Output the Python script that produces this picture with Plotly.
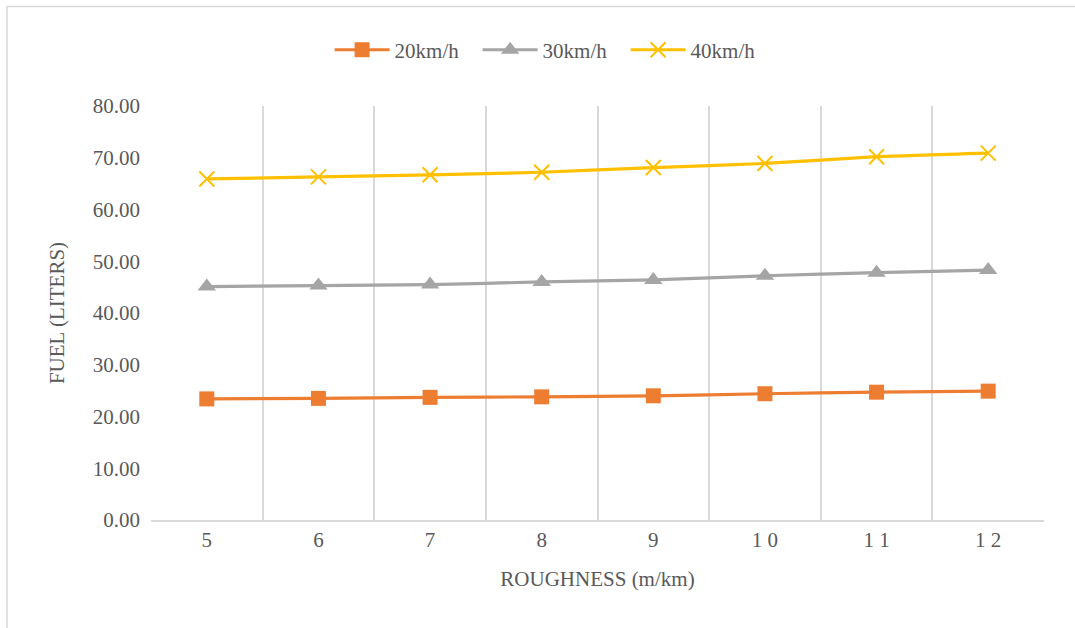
import plotly.graph_objects as go

roughness = ["5", "6", "7", "8", "9", "1 0", "1 1", "1 2"]
fuel_20 = [23.4, 23.5, 23.7, 23.8, 24.0, 24.4, 24.7, 24.9]
fuel_30 = [45.1, 45.3, 45.5, 46.0, 46.4, 47.2, 47.8, 48.3]
fuel_40 = [65.9, 66.3, 66.7, 67.2, 68.1, 68.9, 70.2, 70.9]
y_ticks = [0, 10, 20, 30, 40, 50, 60, 70, 80]

FONT = "Times New Roman, Tinos, Liberation Serif, DejaVu Serif, serif"
TEXT = "#595959"
GRID = "#D9D9D9"
FS = 21

series = [
    ("20km/h", fuel_20, "#ED7D31", "square", 15, None),
    ("30km/h", fuel_30, "#A5A5A5", "triangle-up", 16, None),
    ("40km/h", fuel_40, "#FFC000", "x-thin", 15, 2),
]

fig = go.Figure()
for name, vals, color, sym, size, mlw in series:
    marker = dict(symbol=sym, size=size, color=color)
    if mlw:
        marker["line"] = dict(color=color, width=mlw)
    fig.add_trace(go.Scatter(
        x=roughness, y=vals, name=name, mode="lines+markers",
        line=dict(color=color, width=3.2, shape="spline", smoothing=0.6),
        marker=marker,
    ))

fig.update_layout(
    width=1075, height=628,
    margin=dict(l=151, r=31, t=106, b=108),
    paper_bgcolor="white", plot_bgcolor="white",
    font=dict(family=FONT, color=TEXT, size=FS),
    showlegend=True,
    legend=dict(orientation="h", x=0.2, xanchor="left", y=1.135, yanchor="middle",
                font=dict(family=FONT, size=FS, color=TEXT), itemwidth=55,
                entrywidth=78, entrywidthmode="pixels", tracegroupgap=0),
    shapes=[dict(type="rect", xref="paper", yref="paper",
                 x0=-0.1612, x1=1.08, y0=-0.35, y1=1.2403,
                 line=dict(color=GRID, width=1.5), fillcolor="rgba(0,0,0,0)", layer="below")],
)

fig.update_xaxes(
    type="category", tickson="boundaries", showgrid=True, gridcolor=GRID, gridwidth=1.5,
    showline=True, linecolor=GRID, linewidth=1.5, mirror=False,
    ticks="", tickfont=dict(family=FONT, size=FS, color=TEXT),
    title=dict(text="ROUGHNESS (m/km)", font=dict(family=FONT, size=FS, color=TEXT), standoff=20),
    range=[-0.5, 7.5], fixedrange=True,
)
fig.update_yaxes(
    range=[0, 80], tickvals=y_ticks, ticktext=[f"{v:.2f}" for v in y_ticks],
    showgrid=False, zeroline=False, showline=False, ticks="",
    tickfont=dict(family=FONT, size=FS, color=TEXT), ticklabelstandoff=10,
    title=dict(text="FUEL (LITERS)", font=dict(family=FONT, size=FS, color=TEXT), standoff=22),
)

fig.write_html("out.html")
